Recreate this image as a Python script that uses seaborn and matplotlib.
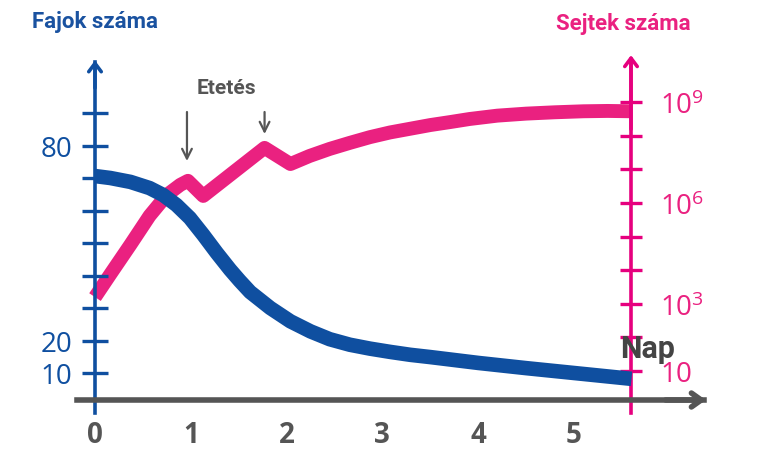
import numpy as np
import pandas as pd
import matplotlib
matplotlib.use("Agg")
import matplotlib.pyplot as plt
import seaborn as sns

# ---- data ----
species_days = [0, 0.16, 0.37, 0.57, 0.71, 0.85, 0.99, 1.13, 1.27, 1.41, 1.51, 1.62, 1.83,
                2.04, 2.25, 2.45, 2.66, 2.87, 3.08, 3.29, 3.5, 4.0, 4.5, 5.0, 5.6]
species_count = [70.6, 70.0, 68.8, 66.9, 64.8, 61.7, 57.7, 52.5, 47.0, 41.8, 38.4, 34.9, 30.0,
                 25.9, 22.8, 20.4, 18.7, 17.5, 16.5, 15.6, 14.9, 13.1, 11.5, 10.0, 8.2]

cell_days = [0, 0.16, 0.37, 0.57, 0.75, 0.89, 0.97, 1.13, 1.77, 2.04, 2.24, 2.45, 2.66,
             2.87, 3.08, 3.29, 3.5, 3.71, 3.91, 4.2, 4.5, 4.8, 5.1, 5.35, 5.6]
cell_log10 = [3.2, 3.88, 4.76, 5.62, 6.24, 6.54, 6.66, 6.21, 7.64, 7.16, 7.40, 7.61, 7.79,
              7.96, 8.10, 8.21, 8.32, 8.41, 8.50, 8.60, 8.66, 8.70, 8.73, 8.74, 8.73]

x_ticks = [0, 1, 2, 3, 4, 5]
left_ticks = [10, 20, 30, 40, 50, 60, 70, 80, 90]
left_labels = ["10", "20", "", "", "", "", "", "80", ""]
right_exps = [1, 2, 3, 4, 5, 6, 7, 8, 9]
right_labels = [r"$\mathregular{10}$", "", r"$\mathregular{10^{3}}$", "", "",
                r"$\mathregular{10^{6}}$", "", "", r"$\mathregular{10^{9}}$"]
feeding_days = [0.96, 1.77]

BLUE = "#0f4fa0"
BLUE_T = "#1a52a0"
PINK = "#ea2180"
MAGENTA = "#e6007e"
GRAY = "#555555"

sns.set_style("white")
plt.rcParams["font.family"] = ["Open Sans", "DejaVu Sans"]

species_df = pd.DataFrame({"day": species_days, "species": species_count})
cells_df = pd.DataFrame({"day": cell_days, "cells": [10.0 ** e for e in cell_log10]})

fig = plt.figure(figsize=(7.68, 4.64), dpi=100)
W, H = 768, 464
ax = fig.add_axes([70 / W, 1 - 415 / H, (712 - 70) / W, (415 - 55) / H])
ax2 = ax.twinx()

px_per_day = 95.8
x0 = 95
ax.set_xlim((70 - x0) / px_per_day, (712 - x0) / px_per_day)
ax.set_ylim((406.5 - 415) / 3.25, (406.5 - 55) / 3.25)
ax2.set_yscale("log")
ax2.set_ylim(10 ** (1 + (372 - 415) / 33.6), 10 ** (1 + (372 - 55) / 33.6))

sns.lineplot(data=cells_df, x="day", y="cells", ax=ax2, color=PINK, lw=10,
             solid_capstyle="butt", solid_joinstyle="round", legend=False)
sns.lineplot(data=species_df, x="day", y="species", ax=ax, color=BLUE, lw=10.5,
             solid_capstyle="butt", solid_joinstyle="round", legend=False)
ax.set_zorder(ax2.get_zorder() + 1)
ax.patch.set_visible(False)

# --- left axis ---
for s in ["top", "right"]:
    ax.spines[s].set_visible(False)
ax.spines["left"].set_position(("data", 0))
ax.spines["left"].set_color(BLUE)
ax.spines["left"].set_linewidth(2.6)
y_bottom = (406.5 - 414) / 3.25
y_top = (406.5 - 63) / 3.25
ax.spines["left"].set_bounds(y_bottom, y_top)
ax.set_yticks(left_ticks)
ax.set_yticklabels(left_labels)
ax.tick_params(axis="y", direction="inout", length=18.5, width=2.4, color=BLUE,
               labelcolor=BLUE, labelsize=20, pad=7)
ax.annotate("", xy=(0, y_top + 0.5), xytext=(0, y_top - 8),
            arrowprops=dict(arrowstyle="->,head_length=0.6,head_width=0.45",
                            color=BLUE, lw=2.6, shrinkA=0, shrinkB=0))

# --- x axis ---
x_axis_val = (406.5 - 401) / 3.25
ax.spines["bottom"].set_position(("data", x_axis_val))
ax.spines["bottom"].set_color(GRAY)
ax.spines["bottom"].set_linewidth(4)
x_left = (77 - x0) / px_per_day
x_right = (704 - x0) / px_per_day
ax.spines["bottom"].set_bounds(x_left, x_right)
ax.set_xticks(x_ticks)
ax.set_xticklabels([str(t) for t in x_ticks])
ax.tick_params(axis="x", direction="inout", length=11, width=1.8, color=GRAY,
               labelcolor=GRAY, labelsize=20, pad=9)
for t in ax.get_xticklabels():
    t.set_fontweight("bold")
ax.annotate("", xy=(x_right + 0.02, x_axis_val), xytext=(x_right - 0.4, x_axis_val),
            arrowprops=dict(arrowstyle="->,head_length=0.7,head_width=0.5",
                            color=GRAY, lw=4, shrinkA=0, shrinkB=0))
ax.set_xlabel("")
ax.set_ylabel("")

# --- right axis ---
x_right_axis = (631 - x0) / px_per_day
for s in ["top", "left", "bottom"]:
    ax2.spines[s].set_visible(False)
ax2.spines["right"].set_position(("data", x_right_axis))
ax2.spines["right"].set_color(MAGENTA)
ax2.spines["right"].set_linewidth(2.6)
r_bottom = 10 ** (1 + (372 - 414) / 33.6)
r_top = 10 ** (1 + (372 - 63) / 33.6)
ax2.spines["right"].set_bounds(r_bottom, r_top)
ax2.set_yticks([10.0 ** e for e in right_exps])
ax2.set_yticklabels(right_labels)
ax2.yaxis.set_minor_locator(matplotlib.ticker.NullLocator())
ax2.tick_params(axis="y", direction="inout", length=16, width=2.4, color=MAGENTA,
                labelcolor=PINK, labelsize=20, pad=13)
ax2.annotate("", xy=(x_right_axis, r_top * 1.6), xytext=(x_right_axis, r_top / 100),
             arrowprops=dict(arrowstyle="->,head_length=0.6,head_width=0.45",
                             color=MAGENTA, lw=2.6, shrinkA=0, shrinkB=0))
ax2.set_ylabel("")

# feeding arrows
arrow_top = (406.5 - 113) / 3.25
arrow_ends = [(406.5 - 162) / 3.25, (406.5 - 135) / 3.25]
for d, e in zip(feeding_days, arrow_ends):
    ax.annotate("", xy=(d, e), xytext=(d, arrow_top),
                arrowprops=dict(arrowstyle="->,head_length=0.7,head_width=0.35",
                                color=GRAY, lw=1.6, shrinkA=0, shrinkB=0))

# texts
tf = ["Roboto", "DejaVu Sans"]
fig.text(95.5 / W, 1 - 22 / H, "Fajok száma", ha="center", va="center",
         fontsize=16, fontweight="bold", color=BLUE_T, family=tf)
fig.text(623 / W, 1 - 24 / H, "Sejtek száma", ha="center", va="center",
         fontsize=16, fontweight="bold", color=PINK, family=tf)
fig.text(226 / W, 1 - 88 / H, "Etetés", ha="center", va="center",
         fontsize=15, fontweight="bold", color=GRAY, family=tf)
fig.text(648 / W, 1 - 349 / H, "Nap", ha="center", va="center",
         fontsize=22, fontweight="bold", color="#444444", family=tf)

fig.savefig("out.png", dpi=100)
